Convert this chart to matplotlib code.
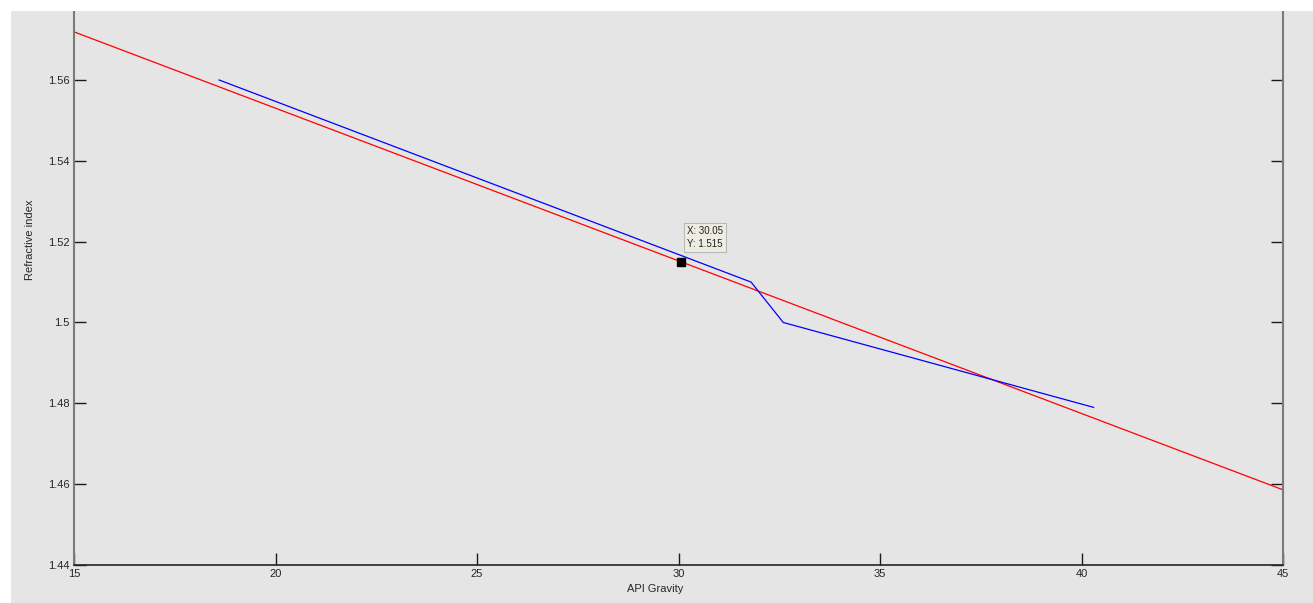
import matplotlib
matplotlib.use("Agg")
import matplotlib.pyplot as plt
from matplotlib.patches import Rectangle
from matplotlib.ticker import FuncFormatter

# measured curve (blue) and linear fit (red)
api_measured = [18.6, 31.8, 32.6, 40.3]
ri_measured = [1.560, 1.510, 1.500, 1.479]
api_fit = [15, 45]
ri_fit = [1.5719, 1.4586]

# data tip
tip_x = 30.05
tip_y = 1.515

x_ticks = [15, 20, 25, 30, 35, 40, 45]
y_ticks = [1.44, 1.46, 1.48, 1.50, 1.52, 1.54, 1.56]

plt.rcParams["font.family"] = ["Liberation Sans", "DejaVu Sans"]

bg = "#e5e5e5"
W, H = 1313, 603
fig = plt.figure(figsize=(W / 100, H / 100), dpi=100, facecolor=bg)
# white strips at top and left (cropped screenshot)
fig.patches.append(Rectangle((0, 1 - 11 / H), 1, 11 / H, transform=fig.transFigure,
                             facecolor="white", edgecolor="none", zorder=0))
fig.patches.append(Rectangle((0, 0), 11 / W, 1, transform=fig.transFigure,
                             facecolor="white", edgecolor="none", zorder=0))

ax = fig.add_axes([74 / W, (H - 565) / H, (1283 - 74) / W, (565 - 11) / H])
ax.set_facecolor(bg)

ax.plot(api_fit, ri_fit, color="#ff0000", linewidth=0.9)
ax.plot(api_measured, ri_measured, color="#0000ff", linewidth=0.9)

ax.plot([tip_x], [tip_y], marker="s", color="black", markersize=5.5, zorder=5)
ax.annotate(f"X: {tip_x:g}\nY: {tip_y:g}", xy=(tip_x, tip_y), xytext=(4.5, 9.5),
            textcoords="offset points", ha="left", va="bottom", fontsize=7,
            color="#222222", linespacing=1.3,
            bbox=dict(boxstyle="square,pad=0.3", facecolor="#eeede2", edgecolor="#b8b8b8", linewidth=0.8))

ax.set_xlim(15, 45)
ax.set_ylim(1.44, 1.44 + 554 / 4042)
ax.set_xticks(x_ticks)
ax.set_yticks(y_ticks)
ax.yaxis.set_major_formatter(FuncFormatter(lambda v, pos: f"{v:g}"))

ax.spines["top"].set_visible(False)
ax.spines["left"].set_color("#7a7a7a")
ax.spines["left"].set_linewidth(1.5)
ax.spines["right"].set_color("#7a7a7a")
ax.spines["right"].set_linewidth(1.5)
ax.spines["bottom"].set_color("#262626")
ax.spines["bottom"].set_linewidth(1.2)

ax.tick_params(axis="both", direction="in", length=8.6, width=1, color="#1a1a1a",
               labelsize=8, labelcolor="#262626")
ax.tick_params(axis="y", left=True, right=True, pad=3)
ax.tick_params(axis="x", bottom=True, top=False, pad=3)

ax.set_xlabel("API Gravity", fontsize=8, color="#262626")
ax.set_ylabel("Refractive index", fontsize=8, color="#262626")
ax.xaxis.set_label_coords(0.4806, -0.0343)
ax.yaxis.set_label_coords(-0.0323, 0.587)

fig.savefig("out.png", dpi=100, facecolor=bg)
